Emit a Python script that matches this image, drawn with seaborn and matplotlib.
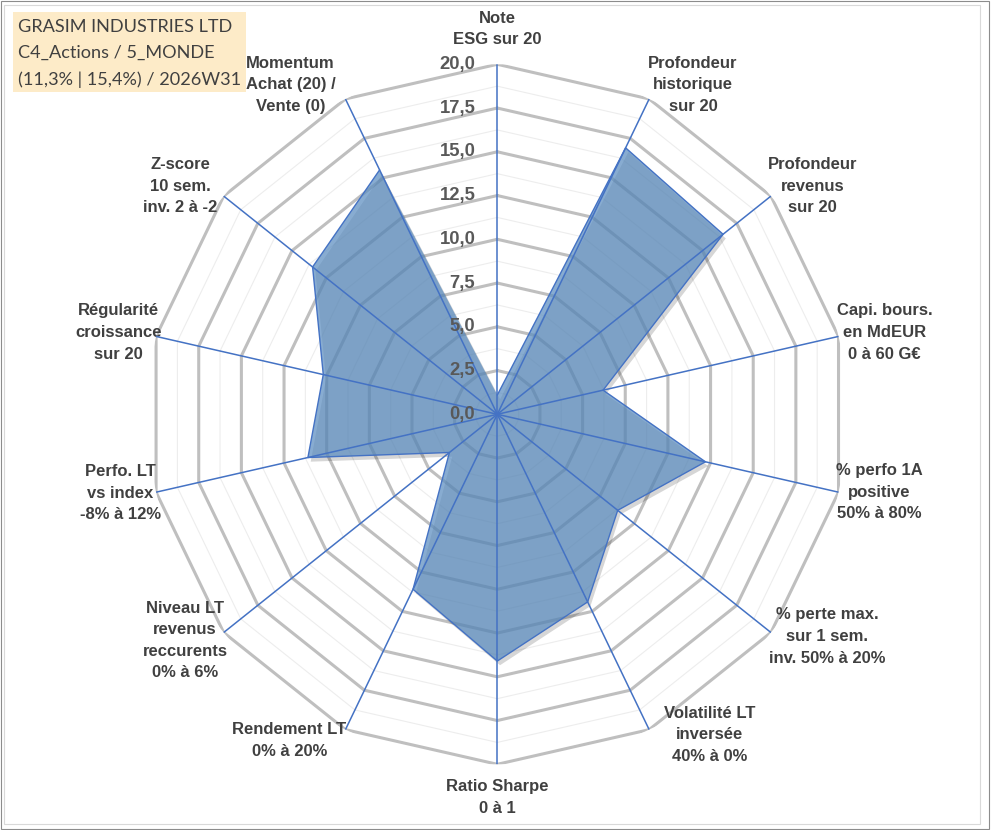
import numpy as np
import matplotlib
matplotlib.use("Agg")
import matplotlib.pyplot as plt
import matplotlib.patheffects as pe
from matplotlib.patches import Rectangle
import seaborn as sns

# axes of the radar, clockwise from the top
categories = [
    "Note\nESG sur 20",
    "Profondeur\nhistorique\nsur 20",
    "Profondeur\nrevenus\nsur 20",
    "Capi. bours.\nen MdEUR\n0 à 60 G€",
    "% perfo 1A\npositive\n50% à 80%",
    "% perte max.\nsur 1 sem.\ninv. 50% à 20%",
    "Volatilité LT\ninversée\n40% à 0%",
    "Ratio Sharpe\n0 à 1",
    "Rendement LT\n0% à 20%",
    "Niveau LT\nrevenus\nreccurents\n0% à 6%",
    "Perfo. LT\nvs index\n-8% à 12%",
    "Régularité\ncroissance\nsur 20",
    "Z-score\n10 sem.\ninv. 2 à -2",
    "Momentum\nAchat (20) /\nVente (0)",
]
scores = [1.1, 16.9, 16.5, 6.2, 12.2, 8.8, 11.9, 14.1, 11.1, 3.5, 11.1, 10.2, 13.5, 15.5]
tick_values = [0.0, 2.5, 5.0, 7.5, 10.0, 12.5, 15.0, 17.5, 20.0]
title_lines = ["GRASIM INDUSTRIES LTD", "C4_Actions / 5_MONDE", "(11,3% | 15,4%) / 2026W31"]

# label nudges in pixels (dx, dy) relative to the outer vertex
label_nudge = [(0, 17), (-1, 14), (-3, 10), (-2, 4), (-3, 0), (-2, -4), (15, -5),
               (0, -15), (1, -11), (4, -8), (5, -1), (6, 4), (-6, 10), (-10, 14)]

W, H = 991, 830
sns.set_theme(style="white")
plt.rcParams["font.family"] = ["Liberation Sans", "DejaVu Sans"]

fig = plt.figure(figsize=(W / 100, H / 100), dpi=100)
cx, cy, R = 497.3, 414.3, 350.0
ax = fig.add_axes([(cx - R) / W, (H - cy - R) / H, 2 * R / W, 2 * R / H], projection="polar")
ax.set_theta_zero_location("N")
ax.set_theta_direction(-1)
ax.set_ylim(0, 20)
ax.set_xticks([])
ax.set_yticks([])
ax.grid(False)
ax.spines["polar"].set_visible(False)
ax.set_facecolor("none")

n = len(categories)
theta = np.arange(n) * 2 * np.pi / n
theta_closed = np.append(theta, theta[0])

# polygon grid
for lvl in np.arange(1.25, 20.01, 1.25):
    major = abs(lvl / 2.5 - round(lvl / 2.5)) < 1e-9
    ax.plot(theta_closed, [lvl] * (n + 1),
            color="#BFBFBF" if major else "#EDEDED",
            lw=2.2 if major else 0.8, zorder=1, solid_joinstyle="miter")

vals = np.append(scores, scores[0])
# shadow
shadow = ax.fill(theta_closed, vals, color="black", alpha=0.0, zorder=2)[0]
shadow.set_path_effects([pe.SimplePatchShadow(offset=(2, -3), shadow_rgbFace="#000000", alpha=0.16)])
ax.fill(theta_closed, vals, color="#5B8DC0", alpha=0.72, zorder=3, lw=0)
sns.lineplot(x=theta_closed, y=vals, sort=False, ax=ax, color="#4472C4", lw=1.0, zorder=4)

# spokes
for t in theta:
    ax.plot([t, t], [0, 20], color="#4472C4", lw=1.1, zorder=5)

# radial tick labels
for v in tick_values:
    ax.annotate(f"{v:.1f}".replace(".", ","), xy=(0, v), xytext=(-22, 0),
                textcoords="offset pixels", ha="right", va="center",
                fontsize=13.3, fontweight="bold", color="#595959", zorder=6)

# category labels
for k, (t, lab) in enumerate(zip(theta, categories)):
    s = np.sin(t)
    if abs(s) < 1e-6:
        ha = "center"
        va = "bottom" if np.cos(t) > 0 else "top"
    else:
        ha = "left" if s > 0 else "right"
        va = "center"
    ax.annotate(lab, xy=(t, 20), xytext=label_nudge[k], textcoords="offset pixels",
                ha=ha, va=va, multialignment="center", fontsize=12, fontweight="bold",
                color="#404040", linespacing=1.55, annotation_clip=False)

# title box
fig.patches.append(Rectangle((12.7 / W, 1 - 91.7 / H), (246 - 12.7) / W, (91.7 - 11.7) / H,
                             transform=fig.transFigure, facecolor="#FDEBC8", edgecolor="none", zorder=0))
fig.text(18 / W, 1 - 19 / H, "\n".join(title_lines), ha="left", va="top",
         fontsize=13.1, color="#404040", family=["Lato", "DejaVu Sans"], linespacing=1.78)

# frames
fig.patches.append(Rectangle((4 / W, 1 - 824 / H), 976 / W, 819 / H, transform=fig.transFigure,
                             facecolor="none", edgecolor="#D9D9D9", lw=0.8))
fig.patches.append(Rectangle((0.5 / W, 1 - 828.5 / H), 988 / W, 827 / H, transform=fig.transFigure,
                             facecolor="none", edgecolor="#8C8C8C", lw=0.8))

fig.savefig("out.png", dpi=100)
